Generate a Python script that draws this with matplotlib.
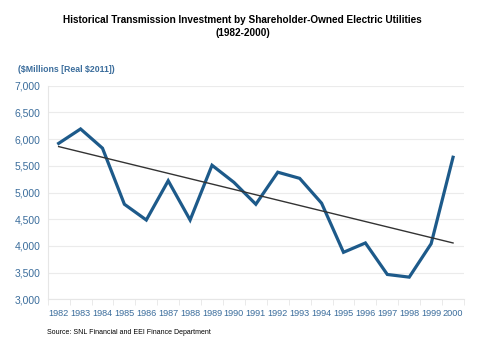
import numpy as np
import matplotlib.pyplot as plt

plt.rcParams['font.family'] = ['Liberation Sans', 'DejaVu Sans']

years = list(range(1982, 2001))
invest = [5920, 6190, 5830, 4780, 4485, 5220, 4485, 5510, 5190, 4780,
          5380, 5265, 4800, 3880, 4055, 3465, 3415, 4040, 5660]
# trendline end values as drawn in the original (1982, 2000)
trend = [5860, 4055]

blue = '#1d5a8a'
tick_blue = '#3b6d9c'

fig = plt.figure(figsize=(4.8, 3.41), dpi=100)
ax = fig.add_axes([47.7 / 480, 1 - 299.3 / 341, (464 - 47.7) / 480, (299.3 - 85.7) / 341])

x = np.arange(len(years))
ax.plot(x, invest, color=blue, lw=2.3, solid_joinstyle='miter', zorder=3)
ax.plot([x[0], x[-1]], trend, color='#333333', lw=1.0, zorder=4)

ax.set_xlim(-0.5, len(years) - 0.5)
ax.set_ylim(3000, 7000)
ax.set_yticks(range(3000, 7001, 500))
ax.set_yticklabels(['{:,}'.format(v) for v in range(3000, 7001, 500)])
ax.set_xticks(x)
ax.set_xticklabels([str(y) for y in years])
ax.set_xticks(np.arange(-0.5, len(years), 1), minor=True)

ax.grid(axis='y', color='#ebebeb', lw=0.8)
ax.set_axisbelow(True)
for s in ['top', 'right']:
    ax.spines[s].set_visible(False)
ax.spines['left'].set_color('#e6e6e6')
ax.spines['bottom'].set_color('#e6e6e6')
ax.tick_params(axis='both', which='major', length=0, labelcolor=tick_blue)
ax.tick_params(axis='x', which='major', pad=7, labelsize=6.6)
ax.tick_params(axis='y', which='major', pad=5, labelsize=7.5)
ax.tick_params(axis='x', which='minor', length=4, color='#e6e6e6')

fig.text(0.505, 1 - 20 / 341, 'Historical Transmission Investment by Shareholder-Owned Electric Utilities',
         ha='center', va='center', fontsize=7.2, fontweight='bold')
fig.text(0.505, 1 - 33 / 341, '(1982-2000)', ha='center', va='center', fontsize=7.2, fontweight='bold')
fig.text(18 / 480, 1 - 69 / 341, r'(\$Millions [Real \$2011])', ha='left', va='center',
         fontsize=6.3, fontweight='bold', color=tick_blue)
fig.text(47 / 480, 1 - 333 / 341, 'Source: SNL Financial and EEI Finance Department',
         ha='left', va='center', fontsize=5.0)

fig.savefig('out.png', dpi=100)
